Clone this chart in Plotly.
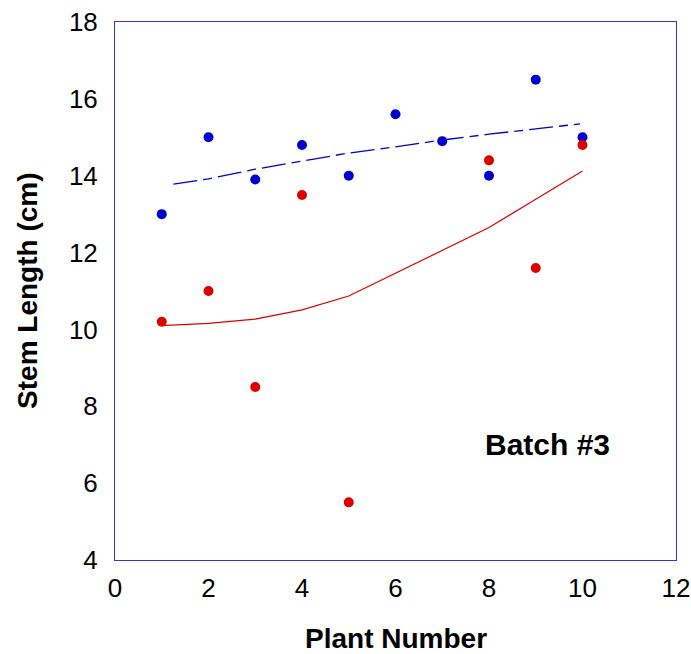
import plotly.graph_objects as go

plant = [1, 2, 3, 4, 5, 6, 7, 8, 9, 10]
blue_len = [13.0, 15.0, 13.9, 14.8, 14.0, 15.6, 14.9, 14.0, 16.5, 15.0]

red_plant = [1, 2, 3, 4, 5, 8, 9, 10]
red_len = [10.2, 11.0, 8.5, 13.5, 5.5, 14.4, 11.6, 14.8]

blue_trend_x = [1.25, 2, 3, 4, 5, 6, 7, 8, 9, 9.95]
blue_trend_y = [13.78, 13.92, 14.17, 14.39, 14.59, 14.75, 14.93, 15.08, 15.21, 15.35]

red_trend_x = [1, 2, 3, 4, 5, 8, 9, 10]
red_trend_y = [10.10, 10.16, 10.27, 10.51, 10.87, 12.65, 13.39, 14.12]

x_ticks = [0, 2, 4, 6, 8, 10, 12]
y_ticks = [4, 6, 8, 10, 12, 14, 16, 18]

BLUE = "#0000CC"
RED = "#DD0000"
FONT = "Liberation Sans, Arial, sans-serif"

fig = go.Figure()
fig.add_trace(go.Scatter(x=blue_trend_x, y=blue_trend_y, mode="lines",
                         line=dict(color=BLUE, width=1.3, dash="24px,6px,9px,6px"),
                         showlegend=False, hoverinfo="skip"))
fig.add_trace(go.Scatter(x=red_trend_x, y=red_trend_y, mode="lines",
                         line=dict(color=RED, width=1.2),
                         showlegend=False, hoverinfo="skip"))
fig.add_trace(go.Scatter(x=plant, y=blue_len, mode="markers",
                         marker=dict(color=BLUE, size=10), showlegend=False))
fig.add_trace(go.Scatter(x=red_plant, y=red_len, mode="markers",
                         marker=dict(color=RED, size=10), showlegend=False))

fig.add_annotation(x=9.26, y=7.0, xref="x", yref="y", text="<b>Batch #3</b>",
                   showarrow=False, font=dict(size=30, color="black", family=FONT))
fig.add_annotation(x=0.5, y=-0.145, xref="paper", yref="paper", text="<b>Plant Number</b>",
                   showarrow=False, xanchor="center", yanchor="middle",
                   font=dict(size=28, color="black", family=FONT))
fig.add_annotation(x=-0.157, y=0.5, xref="paper", yref="paper", text="<b>Stem Length (cm)</b>",
                   showarrow=False, xanchor="center", yanchor="middle", textangle=-90,
                   font=dict(size=28, color="black", family=FONT))

tick_font = dict(size=26, color="black", family=FONT)
fig.update_layout(
    width=691, height=654,
    margin=dict(l=115, r=15, t=22, b=94, autoexpand=False),
    paper_bgcolor="white", plot_bgcolor="white",
    font=tick_font,
    xaxis=dict(range=[0, 12], tickvals=x_ticks, showgrid=False, automargin=False,
               zeroline=False, showline=True, linecolor="#3333EE", linewidth=1,
               mirror=True, ticks="", tickfont=tick_font, ticklabelstandoff=5,
               ticklabeloverflow="allow"),
    yaxis=dict(range=[4, 18], tickvals=y_ticks, showgrid=False, automargin=False,
               zeroline=False, showline=True, linecolor="#3333EE", linewidth=1,
               mirror=True, ticks="", tickfont=tick_font, ticklabelstandoff=11,
               ticklabeloverflow="allow"),
)

fig.write_html("out.html", config={"displayModeBar": False},
               post_script="document.body.style.margin='0';")
